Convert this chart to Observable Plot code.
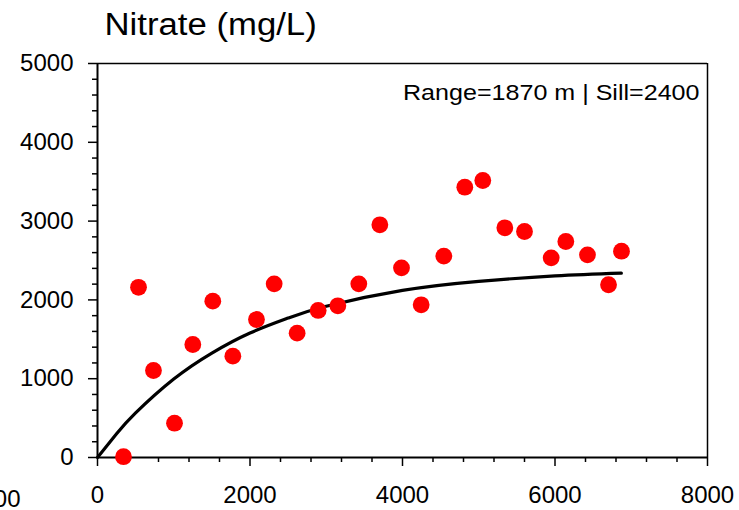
<!DOCTYPE html>
<html>
<head>
<meta charset="utf-8">
<script src="https://cdn.jsdelivr.net/npm/d3@7"></script>
<script src="https://cdn.jsdelivr.net/npm/@observablehq/plot@0.6"></script>
<style>
  html, body { margin: 0; padding: 0; background: #fff; }
  #chart { position: relative; width: 739px; height: 510px; overflow: hidden; }
  #chart svg { font-family: "Liberation Sans", Arial, sans-serif; }
</style>
</head>
<body>
<div id="chart"></div>
<script>
// Observed semivariance points (lag distance in m, semivariance)
const lagDistance = [341, 538, 734, 1010, 1250, 1512, 1775, 2085, 2317, 2618, 2894, 3152, 3427, 3703, 3987, 4245, 4542, 4817, 5053, 5342, 5600, 5950, 6142, 6426, 6702, 6872];
const semivariance = [10, 2160, 1104, 435, 1434, 1984, 1286, 1751, 2204, 1578, 1866, 1925, 2204, 2953, 2407, 1938, 2555, 3430, 3515, 2915, 2868, 2534, 2741, 2572, 2192, 2618];

// Fitted model curve
const modelDistance = [0, 250, 500, 1000, 1500, 2000, 2500, 3000, 4000, 5000, 6000, 6870];
const modelValue = [0, 300, 565, 995, 1325, 1580, 1770, 1920, 2120, 2235, 2305, 2340];

const xMajorTicks = [0, 2000, 4000, 6000, 8000];
const xMinorTicks = [400, 800, 1200, 1600, 2400, 2800, 3200, 3600, 4400, 4800, 5200, 5600, 6400, 6800, 7200, 7600];
const yMajorTicks = [0, 1000, 2000, 3000, 4000, 5000];
const yMinorTicks = [200, 400, 600, 800, 1200, 1400, 1600, 1800, 2200, 2400, 2600, 2800, 3200, 3400, 3600, 3800, 4200, 4400, 4600, 4800];

const titleText = "Nitrate (mg/L)";
const annotationText = "Range=1870 m | Sill=2400";
const neighbourLabel = "8000";

const points = lagDistance.map((d, i) => ({d, g: semivariance[i]}));
const model = modelDistance.map((d, i) => ({d, g: modelValue[i]}));

const plot = Plot.plot({
  width: 739,
  height: 510,
  marginLeft: 97,
  marginRight: 32,
  marginTop: 63,
  marginBottom: 53,
  style: {fontFamily: '"Liberation Sans", Arial, sans-serif', background: "#fff", overflow: "hidden"},
  x: {domain: [0, 8000]},
  y: {domain: [0, 5000]},
  marks: [
    Plot.axisX(xMinorTicks, {tickSize: 5, tickFormat: () => "", label: null, stroke: "#000", strokeWidth: 1.5}),
    Plot.axisX(xMajorTicks, {tickSize: 9, tickPadding: 19, tickFormat: d => String(d), label: null, fontSize: 24, fill: "#000", stroke: "#000", strokeWidth: 1.5}),
    Plot.axisY(yMinorTicks, {tickSize: 5, tickFormat: () => "", label: null, stroke: "#000", strokeWidth: 1.5}),
    Plot.axisY(yMajorTicks, {tickSize: 9, tickPadding: 15, tickFormat: d => String(d), label: null, fontSize: 24, fill: "#000", stroke: "#000", strokeWidth: 1.5}),
    Plot.ruleY([0], {stroke: "#000", strokeWidth: 2}),
    Plot.ruleX([0], {stroke: "#000", strokeWidth: 2}),
    Plot.ruleY([5000], {stroke: "#000", strokeWidth: 1.5}),
    Plot.ruleX([8000], {stroke: "#000", strokeWidth: 1.5}),
    Plot.line(model, {x: "d", y: "g", stroke: "#000", strokeWidth: 3.2, curve: "natural"}),
    Plot.dot(points, {x: "d", y: "g", r: 8.4, fill: "#ff0000", stroke: null}),
    Plot.text([annotationText], {frameAnchor: "top-right", dx: -8, dy: 29, textAnchor: "end", lineAnchor: "middle", fontSize: 22, fill: "#000"}),
    Plot.text([titleText], {frameAnchor: "top-left", dx: 7, dy: -38, textAnchor: "start", lineAnchor: "middle", fontSize: 31, fill: "#000"}),
    Plot.text([neighbourLabel], {frameAnchor: "bottom-left", dx: -77, dy: 42, textAnchor: "end", lineAnchor: "middle", fontSize: 24, fill: "#000"})
  ]
});
document.getElementById("chart").appendChild(plot);

// The reference's lettering is slightly wider than the font's natural width
const stretch = new Map([[titleText, 1.12], [annotationText, 1.14]]);
plot.querySelectorAll("text").forEach(t => {
  const f = stretch.get(t.textContent);
  if (f) {
    const w = t.getComputedTextLength();
    t.setAttribute("textLength", (w * f).toFixed(1));
    t.setAttribute("lengthAdjust", "spacingAndGlyphs");
  }
});
</script>
</body>
</html>
